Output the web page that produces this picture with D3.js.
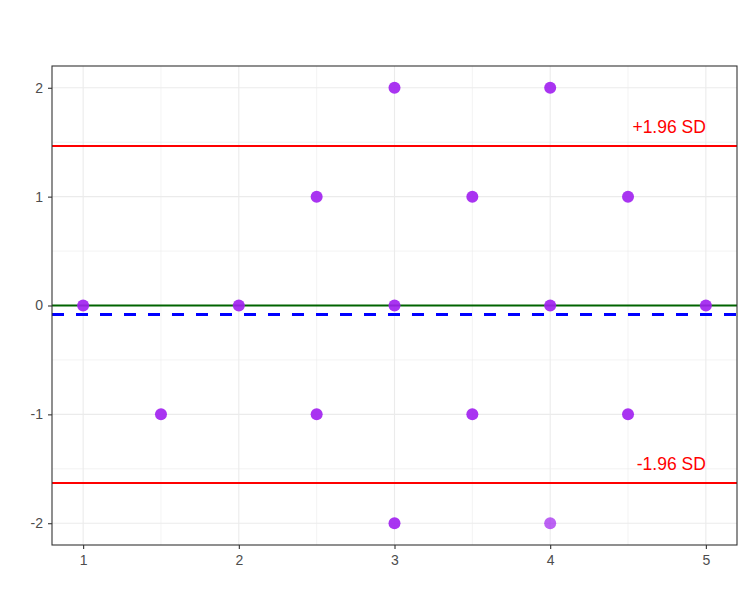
<!DOCTYPE html>
<html><head><meta charset="utf-8">
<script src="https://cdn.jsdelivr.net/npm/d3@7"></script>
<style>body{margin:0;background:#fff;} svg{display:block;font-family:"Liberation Sans",Arial,sans-serif;}</style>
</head><body>
<script>
// Data (means on x, differences on y); count = overlapping observations
const meanVals = [1, 1.5, 2, 2.5, 2.5, 3, 3, 3, 3.5, 3.5, 4, 4, 4, 4.5, 4.5, 5];
const diffVals = [0, -1, 0, 1, -1, 2, 0, -2, 1, -1, 2, 0, -2, 1, -1, 0];
const counts   = [2, 2, 2, 2, 2, 2, 2, 2, 2, 2, 2, 2, 1, 2, 2, 2];
const meanDiff = -0.083;
const upperLoA = 1.465;
const lowerLoA = -1.631;
const xTicks = [1, 2, 3, 4, 5];
const yTicks = [-2, -1, 0, 1, 2];
const loaLabels = ["+1.96 SD", "-1.96 SD"];

const W = 747, H = 600;
const m = {left: 52, right: 10, top: 66, bottom: 55};
const svg = d3.select("body").append("svg").attr("width", W).attr("height", H);
const x = d3.scaleLinear().domain([0.8, 5.2]).range([m.left, W - m.right]);
const y = d3.scaleLinear().domain([-2.2, 2.2]).range([H - m.bottom, m.top]);

const g = svg.append("g");
// minor grid
const xMinor = [1.5, 2.5, 3.5, 4.5], yMinor = [-1.5, -0.5, 0.5, 1.5];
g.selectAll(".xm").data(xMinor).join("line").attr("x1", d => x(d)).attr("x2", d => x(d))
  .attr("y1", m.top).attr("y2", H - m.bottom).attr("stroke", "#EBEBEB").attr("stroke-width", 0.6);
g.selectAll(".ym").data(yMinor).join("line").attr("y1", d => y(d)).attr("y2", d => y(d))
  .attr("x1", m.left).attr("x2", W - m.right).attr("stroke", "#EBEBEB").attr("stroke-width", 0.6);
// major grid
g.selectAll(".xg").data(xTicks).join("line").attr("x1", d => x(d)).attr("x2", d => x(d))
  .attr("y1", m.top).attr("y2", H - m.bottom).attr("stroke", "#EBEBEB").attr("stroke-width", 1.1);
g.selectAll(".yg").data(yTicks).join("line").attr("y1", d => y(d)).attr("y2", d => y(d))
  .attr("x1", m.left).attr("x2", W - m.right).attr("stroke", "#EBEBEB").attr("stroke-width", 1.1);

// reference lines
const hl = (v, col, w, dash) => g.append("line").attr("x1", m.left).attr("x2", W - m.right)
  .attr("y1", y(v)).attr("y2", y(v)).attr("stroke", col).attr("stroke-width", w)
  .attr("stroke-dasharray", dash || null);
hl(upperLoA, "#FF0000", 2);
hl(lowerLoA, "#FF0000", 2);
hl(0, "#006400", 2);
hl(meanDiff, "#0000FF", 3, "12,12");

// points
const pts = meanVals.map((d, i) => ({x: d, y: diffVals[i], c: counts[i]}));
g.selectAll(".pt").data(pts).join("circle").attr("cx", d => x(d.x)).attr("cy", d => y(d.y))
  .attr("r", 6).attr("fill", "#A020F0").attr("fill-opacity", d => 1 - Math.pow(0.3, d.c));

// labels
g.append("text").attr("x", x(5)).attr("y", y(upperLoA + 0.12))
  .attr("text-anchor", "end").attr("fill", "#FF0000").attr("font-size", 17.5).text(loaLabels[0]);
g.append("text").attr("x", x(5)).attr("y", y(lowerLoA + 0.12))
  .attr("text-anchor", "end").attr("fill", "#FF0000").attr("font-size", 17.5).text(loaLabels[1]);

// panel border
svg.append("rect").attr("x", m.left).attr("y", m.top).attr("width", W - m.left - m.right)
  .attr("height", H - m.top - m.bottom).attr("fill", "none").attr("stroke", "#333333").attr("stroke-width", 1.1);

// axes
const xa = svg.append("g").attr("transform", `translate(0,${H - m.bottom})`)
  .call(d3.axisBottom(x).tickValues(xTicks).tickSize(4).tickPadding(6).tickFormat(d3.format("d")));
const ya = svg.append("g").attr("transform", `translate(${m.left},0)`)
  .call(d3.axisLeft(y).tickValues(yTicks).tickSize(4).tickPadding(5).tickFormat(d => d < 0 ? "-" + Math.abs(d) : d));
[xa, ya].forEach(a => {
  a.select(".domain").remove();
  a.selectAll(".tick line").attr("stroke", "#333333").attr("stroke-width", 1.1);
  a.selectAll(".tick text").attr("fill", "#4D4D4D").attr("font-size", 14)
    .attr("font-family", "Liberation Sans, Arial, sans-serif");
});
</script>
</body></html>
